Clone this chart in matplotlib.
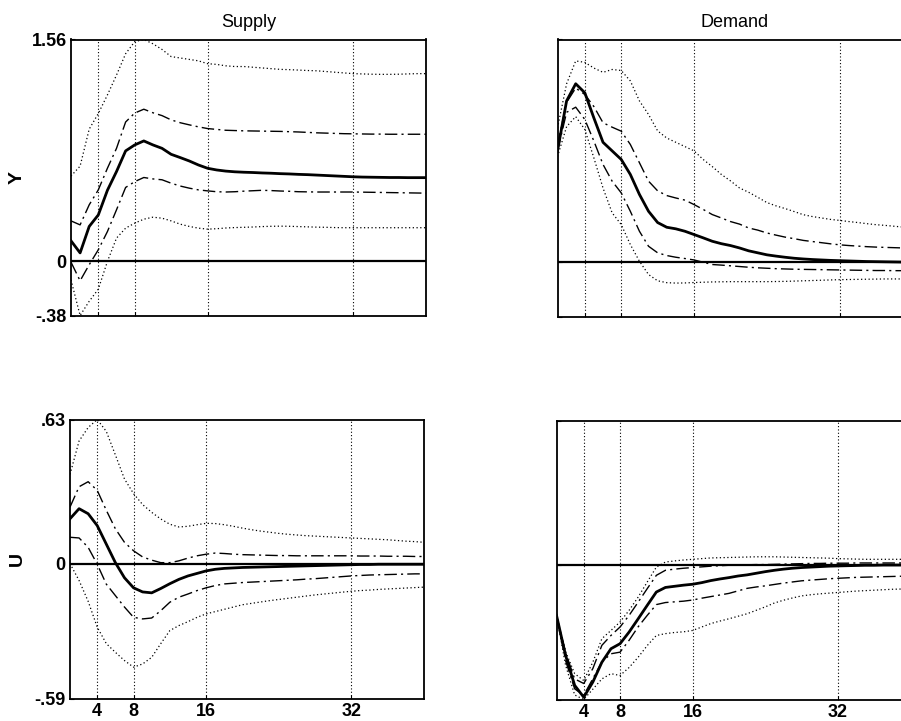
import numpy as np
import matplotlib
matplotlib.use("Agg")
import matplotlib.pyplot as plt
from matplotlib.ticker import FixedLocator, FixedFormatter

plt.rcParams['font.family'] = ['Liberation Sans', 'DejaVu Sans']

horizon = np.arange(1, 41)
grid_ticks = [4, 8, 16, 32]
shock_titles = ["Supply", "Demand"]
variable_labels = ["Y", "U"]
y_limits = [(-0.38, 1.56), (-0.59, 0.63)]

# --- Output (Y) response to a supply shock ---
y_sup_med = [0.145, 0.06, 0.246, 0.327, 0.50, 0.632, 0.777, 0.819, 0.847, 0.819,
             0.795, 0.753, 0.73, 0.706, 0.678, 0.655, 0.643, 0.635, 0.63, 0.627,
             0.625, 0.622, 0.62, 0.617, 0.615, 0.612, 0.61, 0.607, 0.604, 0.601,
             0.598, 0.595, 0.593, 0.592, 0.591, 0.590, 0.590, 0.589, 0.589, 0.589]
y_sup_hi1 = [0.285, 0.257, 0.398, 0.503, 0.655, 0.795, 0.98, 1.043, 1.07, 1.045,
             1.025, 0.995, 0.975, 0.96, 0.946, 0.934, 0.928, 0.922, 0.92, 0.918,
             0.917, 0.916, 0.915, 0.914, 0.912, 0.91, 0.907, 0.904, 0.902, 0.9,
             0.898, 0.897, 0.896, 0.895, 0.895, 0.894, 0.894, 0.894, 0.894, 0.894]
y_sup_lo1 = [-0.005, -0.136, -0.023, 0.082, 0.21, 0.363, 0.52, 0.561, 0.59, 0.58,
             0.574, 0.55, 0.53, 0.515, 0.503, 0.496, 0.49, 0.488, 0.49, 0.494,
             0.497, 0.5, 0.498, 0.495, 0.493, 0.49, 0.489, 0.488, 0.488, 0.488,
             0.488, 0.488, 0.487, 0.486, 0.485, 0.484, 0.483, 0.482, 0.481, 0.48]
y_sup_hi2 = [0.60, 0.67, 0.93, 1.04, 1.17, 1.31, 1.46, 1.545, 1.56, 1.53,
             1.49, 1.44, 1.43, 1.42, 1.41, 1.39, 1.385, 1.375, 1.37, 1.37,
             1.365, 1.36, 1.355, 1.35, 1.348, 1.345, 1.342, 1.34, 1.335, 1.33,
             1.325, 1.32, 1.318, 1.316, 1.315, 1.315, 1.316, 1.318, 1.32, 1.32]
y_sup_lo2 = [-0.13, -0.38, -0.28, -0.195, 0.0, 0.164, 0.234, 0.269, 0.297, 0.311,
             0.304, 0.285, 0.262, 0.246, 0.234, 0.227, 0.23, 0.235, 0.238, 0.24,
             0.242, 0.245, 0.247, 0.248, 0.247, 0.245, 0.243, 0.241, 0.24, 0.238,
             0.237, 0.237, 0.237, 0.237, 0.237, 0.237, 0.237, 0.237, 0.237, 0.237]

# --- Output (Y) response to a demand shock ---
y_dem_med = [0.78, 1.13, 1.25, 1.187, 1.01, 0.84, 0.78, 0.72, 0.615, 0.475,
             0.357, 0.278, 0.245, 0.234, 0.217, 0.194, 0.171, 0.147, 0.13, 0.117,
             0.1, 0.08, 0.066, 0.052, 0.043, 0.035, 0.028, 0.023, 0.019, 0.016,
             0.013, 0.011, 0.009, 0.007, 0.005, 0.004, 0.003, 0.002, 0.001, 0.0]
y_dem_hi1 = [0.82, 1.12, 1.22, 1.175, 1.09, 0.977, 0.946, 0.918, 0.825, 0.697,
             0.568, 0.50, 0.467, 0.45, 0.435, 0.404, 0.37, 0.334, 0.31, 0.285,
             0.267, 0.24, 0.225, 0.205, 0.19, 0.176, 0.165, 0.153, 0.145, 0.137,
             0.129, 0.122, 0.117, 0.113, 0.109, 0.106, 0.104, 0.102, 0.1, 0.098]
y_dem_lo1 = [0.78, 1.05, 1.086, 1.0, 0.848, 0.685, 0.568, 0.486, 0.357, 0.217,
             0.112, 0.066, 0.047, 0.035, 0.026, 0.016, 0.0, -0.016, -0.02, -0.025,
             -0.03, -0.035, -0.039, -0.042, -0.045, -0.047, -0.049, -0.05, -0.051, -0.052,
             -0.053, -0.054, -0.055, -0.056, -0.057, -0.058, -0.058, -0.059, -0.059, -0.059]
y_dem_hi2 = [0.94, 1.25, 1.41, 1.40, 1.36, 1.33, 1.35, 1.343, 1.27, 1.13,
             1.035, 0.92, 0.87, 0.84, 0.81, 0.78, 0.72, 0.67, 0.615, 0.57,
             0.52, 0.49, 0.455, 0.418, 0.395, 0.376, 0.355, 0.333, 0.32, 0.31,
             0.3, 0.293, 0.285, 0.278, 0.27, 0.263, 0.258, 0.252, 0.246, 0.242]
y_dem_lo2 = [0.74, 0.95, 1.02, 0.93, 0.73, 0.52, 0.346, 0.264, 0.124, 0.007,
             -0.086, -0.13, -0.143, -0.146, -0.145, -0.142, -0.14, -0.138, -0.137, -0.136,
             -0.136, -0.136, -0.136, -0.136, -0.135, -0.134, -0.132, -0.13, -0.128, -0.126,
             -0.124, -0.122, -0.121, -0.12, -0.119, -0.118, -0.117, -0.117, -0.117, -0.117]

# --- Unemployment (U) response to a supply shock ---
u_sup_med = [0.196, 0.24, 0.218, 0.166, 0.085, 0.004, -0.062, -0.106, -0.124, -0.128,
             -0.109, -0.088, -0.069, -0.054, -0.043, -0.032, -0.025, -0.021, -0.019, -0.017,
             -0.016, -0.015, -0.014, -0.013, -0.012, -0.011, -0.01, -0.009, -0.008, -0.007,
             -0.006, -0.005, -0.004, -0.004, -0.003, -0.003, -0.003, -0.003, -0.003, -0.003]
u_sup_hi1 = [0.247, 0.336, 0.358, 0.32, 0.233, 0.152, 0.093, 0.056, 0.029, 0.015,
             0.004, 0.004, 0.012, 0.024, 0.034, 0.041, 0.046, 0.044, 0.041, 0.039,
             0.038, 0.037, 0.036, 0.035, 0.035, 0.034, 0.034, 0.034, 0.034, 0.034,
             0.034, 0.034, 0.033, 0.033, 0.033, 0.032, 0.032, 0.032, 0.031, 0.031]
u_sup_lo1 = [0.115, 0.112, 0.071, -0.003, -0.09, -0.14, -0.19, -0.235, -0.242, -0.238,
             -0.206, -0.169, -0.147, -0.133, -0.118, -0.106, -0.096, -0.089, -0.086, -0.083,
             -0.081, -0.079, -0.077, -0.075, -0.073, -0.071, -0.068, -0.066, -0.063, -0.06,
             -0.057, -0.054, -0.052, -0.05, -0.049, -0.048, -0.047, -0.046, -0.045, -0.045]
u_sup_hi2 = [0.39, 0.536, 0.595, 0.63, 0.578, 0.475, 0.37, 0.306, 0.258, 0.224,
             0.195, 0.172, 0.16, 0.163, 0.17, 0.176, 0.175, 0.17, 0.163, 0.155,
             0.148, 0.142, 0.137, 0.132, 0.128, 0.125, 0.122, 0.12, 0.118, 0.116,
             0.114, 0.112, 0.11, 0.108, 0.106, 0.104, 0.101, 0.098, 0.096, 0.093]
u_sup_lo2 = [0.0, -0.074, -0.165, -0.278, -0.35, -0.388, -0.424, -0.453, -0.439, -0.41,
             -0.35, -0.293, -0.271, -0.254, -0.235, -0.22, -0.21, -0.2, -0.19, -0.18,
             -0.174, -0.168, -0.162, -0.157, -0.152, -0.147, -0.142, -0.137, -0.133, -0.129,
             -0.125, -0.121, -0.118, -0.116, -0.113, -0.111, -0.109, -0.107, -0.105, -0.103]

# --- Unemployment (U) response to a demand shock ---
u_dem_med = [-0.222, -0.397, -0.528, -0.58, -0.514, -0.427, -0.368, -0.346, -0.295, -0.237,
             -0.178, -0.12, -0.10, -0.095, -0.09, -0.086, -0.079, -0.07, -0.063, -0.057,
             -0.05, -0.045, -0.038, -0.031, -0.025, -0.02, -0.016, -0.013, -0.011, -0.009,
             -0.007, -0.006, -0.005, -0.004, -0.003, -0.003, -0.002, -0.002, -0.002, -0.002]
u_dem_hi1 = [-0.222, -0.385, -0.5, -0.52, -0.455, -0.353, -0.31, -0.273, -0.222, -0.164,
             -0.105, -0.047, -0.025, -0.02, -0.016, -0.013, -0.01, -0.007, -0.005, -0.003,
             -0.002, -0.001, 0.0, 0.0, 0.001, 0.002, 0.003, 0.004, 0.005, 0.005,
             0.006, 0.006, 0.006, 0.007, 0.007, 0.007, 0.007, 0.007, 0.007, 0.007]
u_dem_lo1 = [-0.222, -0.42, -0.543, -0.572, -0.499, -0.426, -0.39, -0.383, -0.331, -0.272,
             -0.222, -0.175, -0.166, -0.163, -0.16, -0.155, -0.147, -0.14, -0.133, -0.126,
             -0.115, -0.104, -0.098, -0.093, -0.087, -0.081, -0.076, -0.071, -0.068, -0.065,
             -0.062, -0.06, -0.058, -0.056, -0.055, -0.054, -0.053, -0.052, -0.051, -0.05]
u_dem_hi2 = [-0.222, -0.38, -0.477, -0.507, -0.427, -0.324, -0.288, -0.251, -0.2, -0.142,
             -0.076, -0.011, 0.011, 0.016, 0.02, 0.023, 0.026, 0.029, 0.03, 0.031,
             0.032, 0.033, 0.034, 0.034, 0.034, 0.033, 0.032, 0.031, 0.03, 0.029,
             0.028, 0.026, 0.025, 0.024, 0.023, 0.023, 0.023, 0.023, 0.023, 0.023]
u_dem_lo2 = [-0.222, -0.44, -0.57, -0.59, -0.545, -0.5, -0.477, -0.485, -0.45, -0.405,
             -0.354, -0.31, -0.302, -0.297, -0.294, -0.288, -0.273, -0.258, -0.247, -0.237,
             -0.226, -0.215, -0.2, -0.185, -0.168, -0.156, -0.146, -0.137, -0.132, -0.128,
             -0.125, -0.122, -0.119, -0.116, -0.114, -0.112, -0.11, -0.108, -0.107, -0.106]

panels = [
    [(y_sup_med, y_sup_hi1, y_sup_lo1, y_sup_hi2, y_sup_lo2),
     (y_dem_med, y_dem_hi1, y_dem_lo1, y_dem_hi2, y_dem_lo2)],
    [(u_sup_med, u_sup_hi1, u_sup_lo1, u_sup_hi2, u_sup_lo2),
     (u_dem_med, u_dem_hi1, u_dem_lo1, u_dem_hi2, u_dem_lo2)],
]

W, H = 901, 721
fig = plt.figure(figsize=(W / 100, H / 100), dpi=100)

# axes boxes in pixels: (left, top, width, height)
boxes = [
    [(71, 39.5, 355, 276), (557.5, 39.5, 355, 277)],
    [(70, 419.5, 354, 279), (556.5, 420.5, 354, 279)],
]

dashdot = (0, (9, 3, 1.5, 3))


def mlab_fmt(v):
    if v == 0:
        return "0"
    s = f"{v:.2f}"
    return s.replace("0.", ".", 1)


for r in range(2):
    ymin, ymax = y_limits[r]
    for c in range(2):
        left, top, w, h = boxes[r][c]
        ax = fig.add_axes([left / W, (H - top - h) / H, w / W, h / H])
        med, hi1, lo1, hi2, lo2 = panels[r][c]
        ax.set_xlim(1, 40)
        ax.set_ylim(ymin, ymax)
        for g in grid_ticks:
            ax.axvline(g, color="black", lw=0.8, ls=(0, (1, 2)), zorder=1)
        ax.axhline(0, color="black", lw=1.6, zorder=2)
        ax.plot(horizon, hi2, color="black", lw=0.9, ls=(0, (1, 2)), zorder=3)
        ax.plot(horizon, lo2, color="black", lw=0.9, ls=(0, (1, 2)), zorder=3)
        ax.plot(horizon, hi1, color="black", lw=1.0, ls=dashdot, zorder=3)
        ax.plot(horizon, lo1, color="black", lw=1.0, ls=dashdot, zorder=3)
        ax.plot(horizon, med, color="black", lw=2.0, zorder=4)
        for sp in ax.spines.values():
            sp.set_linewidth(1.3)
            sp.set_color("black")
        ax.xaxis.set_major_locator(FixedLocator(grid_ticks))
        ax.tick_params(axis="both", direction="in", length=3, width=0.8,
                       labelsize=13, pad=3)
        yt = [ymin, 0, ymax]
        ax.yaxis.set_major_locator(FixedLocator(yt))
        if c == 0:
            ax.yaxis.set_major_formatter(FixedFormatter([mlab_fmt(v) for v in yt]))
            for lab in ax.get_yticklabels():
                lab.set_fontweight("bold")
            ax.set_ylabel(variable_labels[r], fontsize=14, fontweight="bold")
            ax.yaxis.set_label_coords((26 - left) / w, 0.5)
        else:
            ax.set_yticklabels([])
        if r == 1:
            ax.set_xticklabels([str(t) for t in grid_ticks], fontweight="bold")
        else:
            ax.set_xticklabels([])
            ax.set_title(shock_titles[c], fontsize=13, pad=9)

fig.savefig("out.png", dpi=100)
